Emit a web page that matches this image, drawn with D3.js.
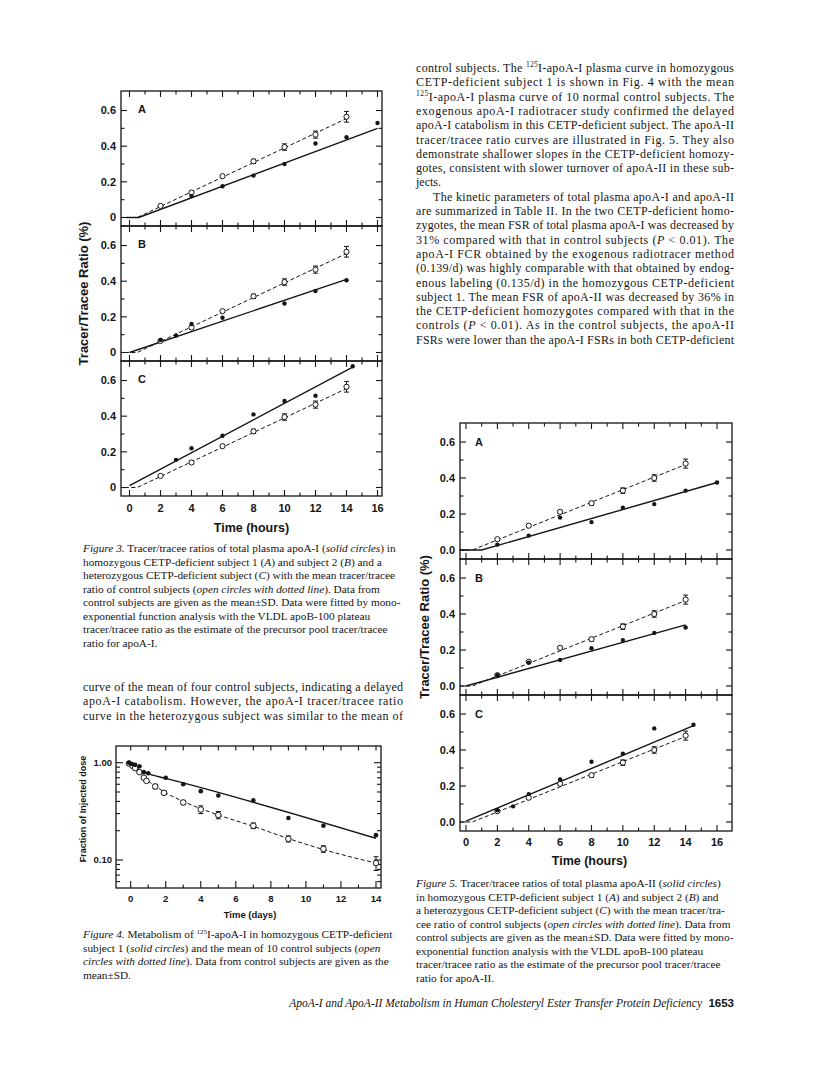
<!DOCTYPE html>
<html>
<head>
<meta charset="utf-8">
<script src="https://cdn.jsdelivr.net/npm/d3@7"></script>
<style>
  html, body { margin: 0; background: #fff; }
  svg { display: block; }
</style>
</head>
<body>
<svg id="page"></svg>
<script>
// ---------- data ----------
const hourTicks = [0, 2, 4, 6, 8, 10, 12, 14, 16];
const dayTicks = [0, 2, 4, 6, 8, 10, 12, 14];

// Figure 3 (apoA-I tracer/tracee ratio, %)
const fig3YTicks = [0, 0.2, 0.4, 0.6];
const fig3YLabels = ['0', '0.2', '0.4', '0.6'];
const ratioMinor = [0.1, 0.3, 0.5];
const fig3CtrlHours = [2, 4, 6, 8, 10, 12, 14];
const fig3CtrlMean = [0.065, 0.14, 0.232, 0.315, 0.395, 0.465, 0.565];
const fig3CtrlSD = [0.004, 0.007, 0.008, 0.012, 0.018, 0.02, 0.03];
const fig3CtrlFit = [[-0.3, 0], [0.5, 0], [14, 0.555]];
const fig3AHours = [4, 6, 8, 10, 12, 14, 16];
const fig3AValues = [0.12, 0.175, 0.235, 0.30, 0.415, 0.45, 0.53];
const fig3AFit = [[-0.2, 0], [0.6, 0], [16, 0.50]];
const fig3BHours = [2, 3, 4, 6, 10, 12, 14];
const fig3BValues = [0.07, 0.095, 0.16, 0.195, 0.275, 0.345, 0.405];
const fig3BFit = [[0, 0], [14, 0.41]];
const fig3CHours = [3, 4, 6, 8, 10, 12, 14.4];
const fig3CValues = [0.155, 0.22, 0.29, 0.41, 0.485, 0.515, 0.68];
const fig3CFit = [[0, 0.01], [14.4, 0.675]];

// Figure 4 (125I-apoA-I, fraction of injected dose, log)
const fig4YMajor = [0.1, 1];
const fig4YLabels = ['0.10', '1.00'];
const fig4YMinor = [0.06, 0.07, 0.08, 0.09, 0.2, 0.3, 0.4, 0.5, 0.6, 0.7, 0.8, 0.9];
const fig4SubjDays = [-0.1, 0.06, 0.25, 0.5, 0.75, 1, 2, 3, 4, 5, 7, 9, 11, 14];
const fig4SubjValues = [1.0, 0.97, 0.95, 0.92, 0.80, 0.78, 0.70, 0.60, 0.51, 0.46, 0.41, 0.27, 0.225, 0.18];
const fig4SubjFit = [[-0.1, 1.0], [0.3, 0.89], [0.7, 0.81], [1.2, 0.75], [2, 0.69], [14, 0.167]];
const fig4CtrlDays = [-0.1, 0.1, 0.25, 0.5, 0.75, 0.9, 1.4, 1.9, 3, 4, 5, 7, 9, 11, 14];
const fig4CtrlMean = [0.98, 0.93, 0.88, 0.80, 0.70, 0.65, 0.57, 0.49, 0.39, 0.33, 0.29, 0.225, 0.165, 0.13, 0.093];
const fig4CtrlSD = [0, 0, 0, 0, 0.02, 0.02, 0.03, 0.02, 0.02, 0.03, 0.025, 0.015, 0.012, 0.01, 0.015];
const fig4CtrlFit = [[-0.1, 0.98], [0.5, 0.79], [1, 0.65], [1.5, 0.56], [2, 0.49], [3, 0.40], [5, 0.29], [7, 0.222], [9, 0.166], [11, 0.128], [14, 0.093]];

// Figure 5 (apoA-II tracer/tracee ratio, %)
const fig5YTicks = [0, 0.2, 0.4, 0.6];
const fig5YLabels = ['0.0', '0.2', '0.4', '0.6'];
const fig5CtrlHours = [2, 4, 6, 8, 10, 12, 14];
const fig5CtrlMean = [0.06, 0.135, 0.212, 0.26, 0.33, 0.40, 0.48];
const fig5CtrlSD = [0.004, 0.006, 0.008, 0.01, 0.015, 0.018, 0.025];
const fig5CtrlFit = [[-0.4, 0], [0.4, 0], [14, 0.475]];
const fig5AHours = [2, 4, 6, 8, 10, 12, 14, 16];
const fig5AValues = [0.03, 0.08, 0.18, 0.155, 0.235, 0.255, 0.33, 0.375];
const fig5AFit = [[-0.4, 0], [1.0, 0], [16, 0.375]];
const fig5BHours = [2, 4, 6, 8, 10, 12, 14];
const fig5BValues = [0.06, 0.13, 0.145, 0.21, 0.255, 0.295, 0.325];
const fig5BFit = [[0, 0], [14, 0.34]];
const fig5CHours = [2, 3, 4, 6, 8, 10, 12, 14.5];
const fig5CValues = [0.065, 0.087, 0.155, 0.237, 0.335, 0.38, 0.52, 0.54];
const fig5CFit = [[0, 0.005], [14.5, 0.535]];

// ---------- text ----------
const fig3Caption = [
  '*Figure 3.* Tracer/tracee ratios of total plasma apoA-I (*solid circles*) in',
  'homozygous CETP-deficient subject 1 (*A*) and subject 2 (*B*) and a',
  'heterozygous CETP-deficient subject (*C*) with the mean tracer/tracee',
  'ratio of control subjects (*open circles with dotted line*). Data from',
  'control subjects are given as the mean±SD. Data were fitted by mono-',
  'exponential function analysis with the VLDL apoB-100 plateau',
  'tracer/tracee ratio as the estimate of the precursor pool tracer/tracee',
  'ratio for apoA-I.'
];
const leftBody = [
  'curve of the mean of four control subjects, indicating a delayed',
  'apoA-I catabolism. However, the apoA-I tracer/tracee ratio',
  'curve in the heterozygous subject was similar to the mean of'
];
const fig4Caption = [
  '*Figure 4.* Metabolism of ^125^I-apoA-I in homozygous CETP-deficient',
  'subject 1 (*solid circles*) and the mean of 10 control subjects (*open*',
  '*circles with dotted line*). Data from control subjects are given as the',
  'mean±SD.'
];
const rightBody = [
  'control subjects. The ^125^I-apoA-I plasma curve in homozygous',
  'CETP-deficient subject 1 is shown in Fig. 4 with the mean',
  '^125^I-apoA-I plasma curve of 10 normal control subjects. The',
  'exogenous apoA-I radiotracer study confirmed the delayed',
  'apoA-I catabolism in this CETP-deficient subject. The apoA-II',
  'tracer/tracee ratio curves are illustrated in Fig. 5. They also',
  'demonstrate shallower slopes in the CETP-deficient homozy-',
  'gotes, consistent with slower turnover of apoA-II in these sub-',
  'jects.',
  'The kinetic parameters of total plasma apoA-I and apoA-II',
  'are summarized in Table II. In the two CETP-deficient homo-',
  'zygotes, the mean FSR of total plasma apoA-I was decreased by',
  '31% compared with that in control subjects (*P* < 0.01). The',
  'apoA-I FCR obtained by the exogenous radiotracer method',
  '(0.139/d) was highly comparable with that obtained by endog-',
  'enous labeling (0.135/d) in the homozygous CETP-deficient',
  'subject 1. The mean FSR of apoA-II was decreased by 36% in',
  'the CETP-deficient homozygotes compared with that in the',
  'controls (*P* < 0.01). As in the control subjects, the apoA-II',
  'FSRs were lower than the apoA-I FSRs in both CETP-deficient'
];
const fig5Caption = [
  '*Figure 5.* Tracer/tracee ratios of total plasma apoA-II (*solid circles*)',
  'in homozygous CETP-deficient subject 1 (*A*) and subject 2 (*B*) and',
  'a heterozygous CETP-deficient subject (*C*) with the mean tracer/tra-',
  'cee ratio of control subjects (*open circles with dotted line*). Data from',
  'control subjects are given as the mean±SD. Data were fitted by mono-',
  'exponential function analysis with the VLDL apoB-100 plateau',
  'tracer/tracee ratio as the estimate of the precursor pool tracer/tracee',
  'ratio for apoA-II.'
];
const footerTitle = 'ApoA-I and ApoA-II Metabolism in Human Cholesteryl Ester Transfer Protein Deficiency';
const pageNumber = '1653';

// ---------- drawing ----------
const SANS = 'Liberation Sans, Arial, Helvetica, sans-serif';
const SERIF = 'Liberation Serif, Times New Roman, serif';
const INK = '#151515';

const svg = d3.select('#page').attr('width', 816).attr('height', 1073);
svg.append('rect').attr('width', 816).attr('height', 1073).attr('fill', '#fff');

const zip = (xs, ys) => xs.map((v, i) => [v, ys[i]]);

function textLines(g, lines, o) {
  lines.forEach((s, i) => {
    const indent = (o.indent && o.indent[i]) || 0;
    const t = g.append('text')
      .attr('x', o.x + indent)
      .attr('y', o.y + i * o.lh)
      .attr('font-family', SERIF)
      .attr('font-size', o.size)
      .attr('fill', INK);
    let raised = false;
    s.split(/(\*[^*]+\*|\^[^^]+\^)/).filter(Boolean).forEach((seg) => {
      let ts;
      if (seg[0] === '*') {
        ts = t.append('tspan').attr('font-style', 'italic').text(seg.slice(1, -1));
      } else if (seg[0] === '^') {
        ts = t.append('tspan').attr('font-size', o.size * 0.62).attr('dy', -o.size * 0.38).text(seg.slice(1, -1));
        raised = true;
        return;
      } else {
        ts = t.append('tspan').text(seg);
      }
      if (raised) { ts.attr('dy', o.size * 0.38); raised = false; }
    });
    if (o.justify && !(o.ragged || []).includes(i)) {
      t.attr('textLength', o.width - indent).attr('lengthAdjust', 'spacing');
    }
  });
}

function tickLine(g, x1, y1, x2, y2) {
  g.append('line').attr('x1', x1).attr('y1', y1).attr('x2', x2).attr('y2', y2);
}

function drawMarkers(g, x, y, solidPts, ctrlPts, ctrlSD, r) {
  const eb = g.append('g').attr('stroke', INK).attr('stroke-width', 1);
  ctrlPts.forEach((d, i) => {
    const sd = ctrlSD[i];
    if (!sd) return;
    const y1 = y(d[1] - sd), y2 = y(d[1] + sd), cx = x(d[0]);
    tickLine(eb, cx, y1, cx, y2);
    tickLine(eb, cx - 2.5, y1, cx + 2.5, y1);
    tickLine(eb, cx - 2.5, y2, cx + 2.5, y2);
  });
  g.selectAll('circle.open')
    .data(ctrlPts)
    .join('circle')
    .attr('class', 'open')
    .attr('cx', (d) => x(d[0]))
    .attr('cy', (d) => y(d[1]))
    .attr('r', r.open)
    .attr('fill', '#fff')
    .attr('stroke', INK)
    .attr('stroke-width', 1);
  g.selectAll('circle.solid')
    .data(solidPts)
    .join('circle')
    .attr('class', 'solid')
    .attr('cx', (d) => x(d[0]))
    .attr('cy', (d) => y(d[1]))
    .attr('r', r.solid)
    .attr('fill', INK);
}

function drawStack(o) {
  const root = svg.append('g');
  const x = d3.scaleLinear().domain([0, 16]).range(o.xRange);
  o.panels.forEach((p, i) => {
    const top = o.top + i * o.panelH;
    const bottom = top + o.panelH;
    const zeroY = bottom - o.zeroOff;
    const y = d3.scaleLinear().domain([0, 0.6]).range([zeroY, zeroY - 0.6 * o.pxPerUnit]);
    const g = root.append('g');

    const tk = g.append('g').attr('stroke', INK).attr('stroke-width', 1.1);
    d3.range(0, 17).forEach((h) => {
      const len = h % 2 === 0 ? 6 : 3.5;
      tickLine(tk, x(h), top, x(h), top + len);
      tickLine(tk, x(h), bottom, x(h), bottom - len);
    });
    o.yTicks.forEach((v) => {
      tickLine(tk, o.left, y(v), o.left + 6, y(v));
      tickLine(tk, o.right, y(v), o.right - 6, y(v));
    });
    ratioMinor.forEach((v) => {
      tickLine(tk, o.left, y(v), o.left + 3.5, y(v));
      tickLine(tk, o.right, y(v), o.right - 3.5, y(v));
    });

    g.append('rect')
      .attr('x', o.left).attr('y', top)
      .attr('width', o.right - o.left).attr('height', o.panelH)
      .attr('fill', 'none').attr('stroke', INK).attr('stroke-width', 1.3);

    g.selectAll('text.ytick')
      .data(o.yTicks)
      .join('text')
      .attr('class', 'ytick')
      .attr('x', o.left - 5)
      .attr('y', (d) => y(d))
      .attr('dy', '0.36em')
      .attr('text-anchor', 'end')
      .attr('font-family', SANS).attr('font-weight', 'bold').attr('font-size', 11)
      .attr('fill', INK)
      .text((d, j) => o.yLabels[j]);

    g.append('text')
      .attr('x', o.left + o.labelDx).attr('y', top + o.labelDy)
      .attr('font-family', SANS).attr('font-weight', 'bold').attr('font-size', 11)
      .attr('fill', INK)
      .text(p.label);

    const line = d3.line().x((d) => x(d[0])).y((d) => y(d[1]));
    g.append('path').attr('d', line(o.ctrlFit))
      .attr('fill', 'none').attr('stroke', INK).attr('stroke-width', 1)
      .attr('stroke-dasharray', '4,2.5');
    g.append('path').attr('d', line(p.fit))
      .attr('fill', 'none').attr('stroke', INK).attr('stroke-width', 1.4);

    drawMarkers(g, x, y, zip(p.hours, p.values), zip(o.ctrlHours, o.ctrlMean), o.ctrlSD, { open: 2.6, solid: 2.2 });
  });

  const bottom = o.top + o.panels.length * o.panelH;
  root.selectAll('text.xtick')
    .data(hourTicks)
    .join('text')
    .attr('class', 'xtick')
    .attr('x', (d) => x(d))
    .attr('y', bottom + o.xLabelDy)
    .attr('text-anchor', 'middle')
    .attr('font-family', SANS).attr('font-weight', 'bold').attr('font-size', 11)
    .attr('fill', INK)
    .text((d) => d);
  root.append('text')
    .attr('x', (o.xRange[0] + o.xRange[1]) / 2 - 2)
    .attr('y', bottom + o.titleDy)
    .attr('text-anchor', 'middle')
    .attr('font-family', SANS).attr('font-weight', 'bold').attr('font-size', 12.5)
    .attr('fill', INK)
    .text('Time (hours)');
  root.append('text')
    .attr('transform', `translate(${o.yTitleX},${o.top + o.panelH * 1.5}) rotate(-90)`)
    .attr('text-anchor', 'middle')
    .attr('font-family', SANS).attr('font-weight', 'bold').attr('font-size', 13)
    .attr('fill', INK)
    .text('Tracer/Tracee Ratio (%)');
}

// Figure 3
drawStack({
  left: 121, right: 382, top: 91, panelH: 135,
  xRange: [129.5, 377.5], zeroOff: 8.5, pxPerUnit: 178.3,
  yTicks: fig3YTicks, yLabels: fig3YLabels,
  labelDx: 17, labelDy: 22,
  ctrlHours: fig3CtrlHours, ctrlMean: fig3CtrlMean, ctrlSD: fig3CtrlSD, ctrlFit: fig3CtrlFit,
  panels: [
    { label: 'A', hours: fig3AHours, values: fig3AValues, fit: fig3AFit },
    { label: 'B', hours: fig3BHours, values: fig3BValues, fit: fig3BFit },
    { label: 'C', hours: fig3CHours, values: fig3CValues, fit: fig3CFit },
  ],
  xLabelDy: 16, titleDy: 36, yTitleX: 88,
});

// Figure 5
drawStack({
  left: 460, right: 732, top: 423, panelH: 136,
  xRange: [466, 717], zeroOff: 9, pxPerUnit: 180,
  yTicks: fig5YTicks, yLabels: fig5YLabels,
  labelDx: 15, labelDy: 23,
  ctrlHours: fig5CtrlHours, ctrlMean: fig5CtrlMean, ctrlSD: fig5CtrlSD, ctrlFit: fig5CtrlFit,
  panels: [
    { label: 'A', hours: fig5AHours, values: fig5AValues, fit: fig5AFit },
    { label: 'B', hours: fig5BHours, values: fig5BValues, fit: fig5BFit },
    { label: 'C', hours: fig5CHours, values: fig5CValues, fit: fig5CFit },
  ],
  xLabelDy: 15, titleDy: 34, yTitleX: 429,
});

// Figure 4
(function () {
  const left = 116, right = 381, top = 746, bottom = 888;
  const x = d3.scaleLinear().domain([0, 14]).range([130.7, 376]);
  const y = d3.scaleLog().domain([0.1, 1]).range([860, 762.7]);
  const g = svg.append('g');
  const tk = g.append('g').attr('stroke', INK).attr('stroke-width', 1.1);
  d3.range(0, 15).forEach((d) => {
    tickLine(tk, x(d), top, x(d), top + 4.5);
    tickLine(tk, x(d), bottom, x(d), bottom - (d % 2 === 0 ? 7 : 3.5));
  });
  fig4YMajor.forEach((v) => {
    tickLine(tk, left, y(v), left + 7, y(v));
    tickLine(tk, right, y(v), right - 7, y(v));
  });
  fig4YMinor.forEach((v) => {
    tickLine(tk, left, y(v), left + 4, y(v));
    tickLine(tk, right, y(v), right - 4, y(v));
  });
  g.append('rect')
    .attr('x', left).attr('y', top).attr('width', right - left).attr('height', bottom - top)
    .attr('fill', 'none').attr('stroke', INK).attr('stroke-width', 1.3);

  g.selectAll('text.ytick')
    .data(fig4YMajor)
    .join('text')
    .attr('class', 'ytick')
    .attr('x', left - 4).attr('y', (d) => y(d)).attr('dy', '0.36em')
    .attr('text-anchor', 'end')
    .attr('font-family', SANS).attr('font-weight', 'bold').attr('font-size', 9.5)
    .attr('fill', INK)
    .text((d, i) => fig4YLabels[i]);
  g.selectAll('text.xtick')
    .data(dayTicks)
    .join('text')
    .attr('class', 'xtick')
    .attr('x', (d) => x(d)).attr('y', bottom + 14)
    .attr('text-anchor', 'middle')
    .attr('font-family', SANS).attr('font-weight', 'bold').attr('font-size', 9.5)
    .attr('fill', INK)
    .text((d) => d);
  g.append('text')
    .attr('x', 250).attr('y', bottom + 30)
    .attr('text-anchor', 'middle')
    .attr('font-family', SANS).attr('font-weight', 'bold').attr('font-size', 9.5)
    .attr('fill', INK)
    .text('Time (days)');
  g.append('text')
    .attr('transform', `translate(86,${(top + bottom) / 2 - 8}) rotate(-90)`)
    .attr('text-anchor', 'middle')
    .attr('font-family', SANS).attr('font-weight', 'bold').attr('font-size', 9)
    .attr('fill', INK)
    .text('Fraction of Injected dose');

  const line = d3.line().x((d) => x(d[0])).y((d) => y(d[1])).curve(d3.curveMonotoneX);
  g.append('path').attr('d', line(fig4CtrlFit))
    .attr('fill', 'none').attr('stroke', INK).attr('stroke-width', 1)
    .attr('stroke-dasharray', '4,2.5');
  g.append('path').attr('d', line(fig4SubjFit))
    .attr('fill', 'none').attr('stroke', INK).attr('stroke-width', 1.5);

  const yLog = (v) => y(Math.max(v, 0.01));
  drawMarkers(g, x, yLog, zip(fig4SubjDays, fig4SubjValues), zip(fig4CtrlDays, fig4CtrlMean), fig4CtrlSD, { open: 2.8, solid: 2.3 });
})();

// ---------- running text ----------
const txt = svg.append('g');
textLines(txt, fig3Caption, { x: 83, y: 552, lh: 13.5, size: 11.3 });
textLines(txt, leftBody, { x: 83, y: 691, lh: 14.4, size: 12, justify: true, width: 320 });
textLines(txt, fig4Caption, { x: 83, y: 938, lh: 13.5, size: 11.3 });
textLines(txt, rightBody, {
  x: 416, y: 72, lh: 14.3, size: 12, justify: true, width: 318,
  ragged: [8], indent: { 9: 17 },
});
textLines(txt, fig5Caption, { x: 416, y: 887, lh: 13.5, size: 11.3 });

txt.append('text')
  .attr('x', 702).attr('y', 1007)
  .attr('text-anchor', 'end')
  .attr('font-family', SERIF).attr('font-style', 'italic').attr('font-size', 11.5)
  .attr('fill', INK)
  .text(footerTitle);
txt.append('text')
  .attr('x', 734).attr('y', 1007)
  .attr('text-anchor', 'end')
  .attr('font-family', SANS).attr('font-weight', 'bold').attr('font-size', 11.5)
  .attr('fill', INK)
  .text(pageNumber);
</script>
</body>
</html>
